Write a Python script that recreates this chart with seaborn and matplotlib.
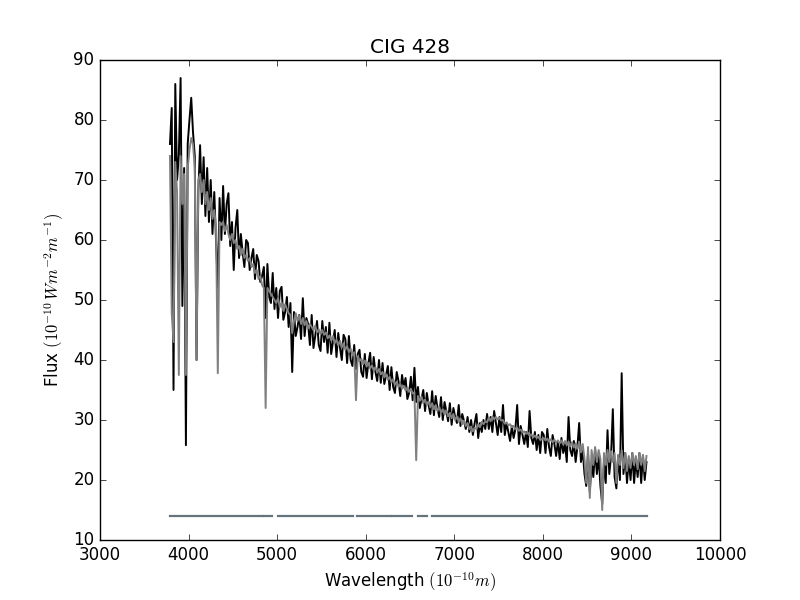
import matplotlib
matplotlib.use("Agg")
import matplotlib.pyplot as plt
import seaborn as sns
import numpy as np
import pandas as pd

# ---- data ----
TITLE = "CIG 428"
XLABEL = r"Wavelength $(10^{-10}m)$"
YLABEL = r"Flux $(10^{-10}\,Wm^{-2}m^{-1})$"

WAVE_FIRST = 3790
WAVE_STEP = 20

OBSERVED = [
    76, 82, 35, 86, 70, 74, 87, 49, 72, 25.8,
    76, 80, 83.7, 78, 74, 40, 68, 75.8, 66, 73.8,
    64, 72, 63, 70, 61, 68, 60, 52, 67, 60,
    69, 61, 66, 67.8, 59, 63, 55, 62, 65, 57,
    61, 58, 55.5, 60, 59.5, 55, 57, 58.5, 53.5, 57.5,
    56.5, 53, 54, 55.5, 47, 56, 50.5, 49.5, 54.5, 48.5,
    52, 47, 51.5, 52.2, 46.7, 48, 50.5, 45.5, 49.5, 38,
    48, 44, 45.5, 47.5, 43.5, 50.3, 44, 47, 46, 42.5,
    47.5, 42, 44, 46.5, 42.5, 41.5, 46.5, 43, 45.5, 41.2,
    46.2, 41, 43, 45, 40.5, 44.5, 42, 40, 44.2, 43.5,
    39.5, 44, 40, 39, 42.5, 38.5, 41, 41.7, 38, 37.2,
    41, 37, 39.5, 41.2, 36.8, 40.5, 38, 36.5, 40, 36.2,
    39.5, 36, 37.5, 39, 35, 38.8, 35.5, 34.5, 38, 36.5,
    34, 37.5, 35.5, 37, 33.5, 34.5, 37.2, 33.3, 38.7, 33,
    35.5, 32, 33.5, 35, 31.5, 34.5, 32.5, 31, 34.8, 30.8,
    34, 32, 30.5, 33.8, 30, 33, 31.5, 29.8, 32.8, 29.2,
    32, 30.5, 29.5, 32.5, 29, 31, 29.8, 28.5, 30.5, 28,
    30, 27.5, 29.5, 31, 27, 29.5, 28, 30, 28.5, 31,
    28.5, 30.5, 28, 31.5, 29.5, 27.5, 30.5, 28, 32.5, 27.5,
    29.5, 28, 26.5, 29, 27, 28.5, 32.5, 26, 29, 27.5,
    26, 28, 25.5, 31.5, 27, 26, 28, 25, 27.5, 24.5,
    28, 27.5, 24.5, 28.5, 25.5, 24, 27.5, 26, 24, 26.5,
    23.5, 27, 24.5, 26, 23, 30.5, 25, 24, 26.5, 23,
    25.5, 29.5, 23, 25, 21, 19, 24.5, 18, 23, 20.5,
    25, 21, 24, 19, 16, 23, 19.5, 28.3, 21, 24,
    31.8, 20.5, 18.6, 24, 20, 37.8, 21, 24.5, 19.5, 23.5,
    20, 24.5, 19.5, 23.5, 20.5, 24.5, 19.5, 24, 20, 23,
]

MODEL = [
    74, 47.8, 43, 73, 68, 37.5, 74, 66, 71, 37.5,
    72, 75, 77, 76, 72, 40, 70, 71, 68, 70,
    66, 68, 65, 67, 63.5, 65, 62, 37.8, 63, 62.5,
    63, 61.5, 62.5, 61, 60, 61, 59.5, 60, 58.5, 59,
    57.5, 58.5, 57, 57.5, 56.5, 57, 55.5, 56, 54.5, 55,
    53.5, 54, 52.5, 52, 32, 52, 51.5, 51, 50.5, 50,
    49.5, 50.3, 48.8, 49.6, 48.2, 49.3, 48.5, 47.8, 47.5, 44.5,
    46.5, 47.8, 46.5, 47.4, 46, 47, 45.8, 46.5, 45.3, 46,
    45.5, 45, 45.7, 44.6, 45.1, 44.3, 45, 44.2, 44.6, 43.6,
    44.1, 43.3, 44, 42.8, 43.4, 42.4, 43.2, 42.1, 42.8, 41.7,
    42.3, 41.3, 41.9, 40.8, 41.3, 33.3, 40.6, 39.8, 40.2, 39.3,
    39.9, 38.9, 39.5, 38.6, 39.1, 38.3, 38.8, 37.9, 38.5, 37.6,
    38, 37.1, 37.6, 36.7, 37.2, 36.3, 36.8, 35.9, 36.4, 35.5,
    36, 35.2, 35.7, 34.9, 35.4, 34.7, 35.2, 34.4, 34.6, 23.3,
    34, 33.2, 33.9, 32.8, 33.4, 32.5, 33.1, 32.1, 32.8, 31.8,
    32.5, 31.5, 32.2, 31.2, 31.8, 30.9, 31.6, 30.6, 31.2, 30.3,
    31, 30, 30.6, 29.7, 30.3, 29.3, 29.9, 29, 29.5, 28.5,
    28.9, 28.1, 28.7, 28.5, 29.3, 28.8, 29.7, 29.3, 29.8, 29.6,
    30.4, 29.8, 30.6, 30.1, 30.5, 30.1, 30.4, 29.9, 30, 29.4,
    29.6, 29.1, 29.3, 28.8, 29, 28.5, 28.7, 28.2, 28.4, 27.9,
    28.1, 27.7, 27.9, 27.4, 27.6, 27.1, 27.4, 27, 27.2, 26.7,
    26.8, 27, 26.6, 26.9, 26.4, 26.8, 26.3, 26.7, 26.2, 26.6,
    26.1, 26.6, 25.9, 26.5, 25.8, 26.4, 25.6, 26.3, 25.4, 26.1,
    25.2, 26.4, 24.6, 26, 23.5, 19.5, 25.5, 17, 25, 22.5,
    25.5, 23, 25, 23.5, 15, 24.5, 22.5, 25, 23, 24.8,
    23, 24.5, 19.5, 24.2, 22.5, 25, 22, 24.5, 21.5, 24,
    22, 24.5, 22.5, 24, 21.8, 24.5, 22.5, 24.2, 21.5, 24,
]

MASK_STARTS = [3790, 4852, 5010, 5902, 6297, 6590, 6748]
MASK_ENDS = [4840, 4942, 5857, 6285, 6522, 6692, 9176]
MASK_LEVEL = 14

XTICKS = [3000, 4000, 5000, 6000, 7000, 8000, 9000, 10000]
YTICKS = [10, 20, 30, 40, 50, 60, 70, 80, 90]

# ---- build tables ----
wave = WAVE_FIRST + WAVE_STEP * np.arange(len(OBSERVED))
spec = pd.DataFrame({"wave": wave, "observed": OBSERVED, "model": MODEL})

mask_rows = []
for i, (s, e) in enumerate(zip(MASK_STARTS, MASK_ENDS)):
    mask_rows.append({"seg": i, "wave": s, "level": MASK_LEVEL})
    mask_rows.append({"seg": i, "wave": e, "level": MASK_LEVEL})
mask = pd.DataFrame(mask_rows)

# ---- plot ----
plt.style.use("classic")
fig, ax = plt.subplots(figsize=(8, 6), dpi=100)
fig.patch.set_facecolor("white")

sns.lineplot(data=spec, x="wave", y="observed", color="black", lw=1.4,
             estimator=None, sort=False, ax=ax)
sns.lineplot(data=spec, x="wave", y="model", color="0.5", lw=1.4,
             estimator=None, sort=False, ax=ax)
sns.lineplot(data=mask, x="wave", y="level", units="seg", color="#65737c",
             lw=1.6, estimator=None, sort=False, ax=ax)

ax.set_xlim(3000, 10000)
ax.set_ylim(10, 90)
ax.set_xticks(XTICKS)
ax.set_yticks(YTICKS)
ax.set_title(TITLE)
ax.set_xlabel(XLABEL)
ax.set_ylabel(YLABEL)

fig.savefig("out.png", dpi=100, facecolor="white")
